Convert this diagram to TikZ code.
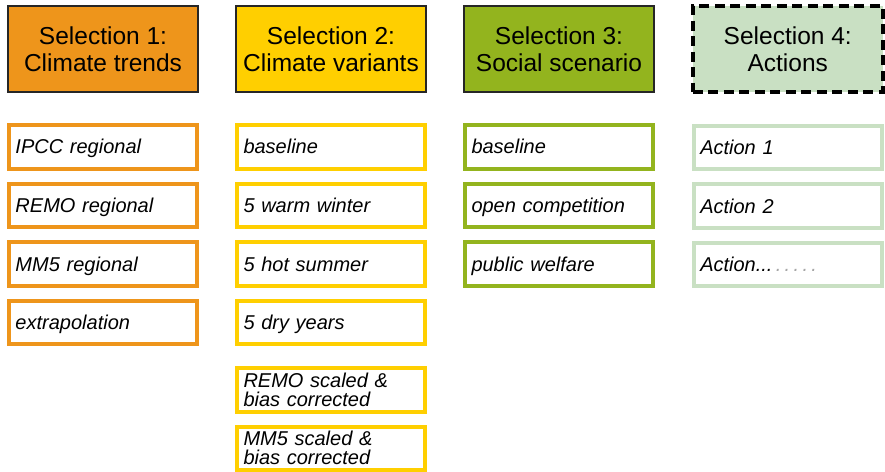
\documentclass[tikz,border=0pt]{standalone}
\usepackage{fontspec}
\setmainfont{Liberation Sans}
\usetikzlibrary{positioning}

\definecolor{trendorange}{HTML}{EE951B}
\definecolor{variantyellow}{HTML}{FFCF00}
\definecolor{socialgreen}{HTML}{93B41E}
\definecolor{actiongreen}{HTML}{C9E0C3}

\begin{document}
\begin{tikzpicture}[x=1pt, y=1pt,
    head/.style={draw=black!85, line width=2pt, align=center, minimum width=190pt, minimum height=86pt, font=\fontsize{24.5}{27}\selectfont},
    item/.style={line width=4pt, fill=white, align=left, text width=175pt, inner xsep=6.5pt, minimum height=43.5pt, font=\fontsize{20}{19}\selectfont\itshape, text depth=0pt},
    twoline/.style={text depth=},
    trend/.style={item, draw=trendorange},
    variant/.style={item, draw=variantyellow},
    social/.style={item, draw=socialgreen},
    action/.style={item, draw=actiongreen}
]
\useasboundingbox (0,0) rectangle (885,-471);
\clip (0,0) rectangle (885,-471);

% selection headers
\node[head, fill=trendorange] (sel1) at (103,-49) {Selection 1:\\Climate trends};
\node[head, fill=variantyellow, right=36pt of sel1] (sel2) {Selection 2:\\Climate variants};
\node[head, fill=socialgreen, right=36pt of sel2] (sel3) {Selection 3:\\Social scenario};
\node[head, fill=actiongreen, draw=black, line width=3.5pt, dash pattern=on 10pt off 5.5pt, right=36pt of sel3] (sel4) {Selection 4:\\Actions};

% climate trends
\node[trend, below=30pt of sel1] (ipcc) {IPCC regional};
\node[trend, below=11pt of ipcc] (remo) {REMO regional};
\node[trend, below=11pt of remo] (mm5) {MM5 regional};
\node[trend, below=11pt of mm5] (extra) {extrapolation};

% climate variants
\node[variant, below=30pt of sel2] (base2) {baseline};
\node[variant, below=11pt of base2] (warm) {5 warm winter};
\node[variant, below=11pt of warm] (hot) {5 hot summer};
\node[variant, below=11pt of hot] (dry) {5 dry years};
\node[variant, twoline, below=20pt of dry] (remosc) {REMO scaled \&\\bias corrected};
\node[variant, twoline, below=11pt of remosc] (mm5sc) {MM5 scaled \&\\bias corrected};

% social scenario
\node[social, below=30pt of sel3] (base3) {baseline};
\node[social, below=11pt of base3] (open) {open competition};
\node[social, below=11pt of open] (welfare) {public welfare};

% actions
\node[action, below=30pt of sel4] (act1) {Action 1};
\node[action, below=11pt of act1] (act2) {Action 2};
\node[action, below=11pt of act2] (actn) {Action...\textcolor{black!35}{\,.\,.\,.\,.\,.}};
\end{tikzpicture}
\end{document}
